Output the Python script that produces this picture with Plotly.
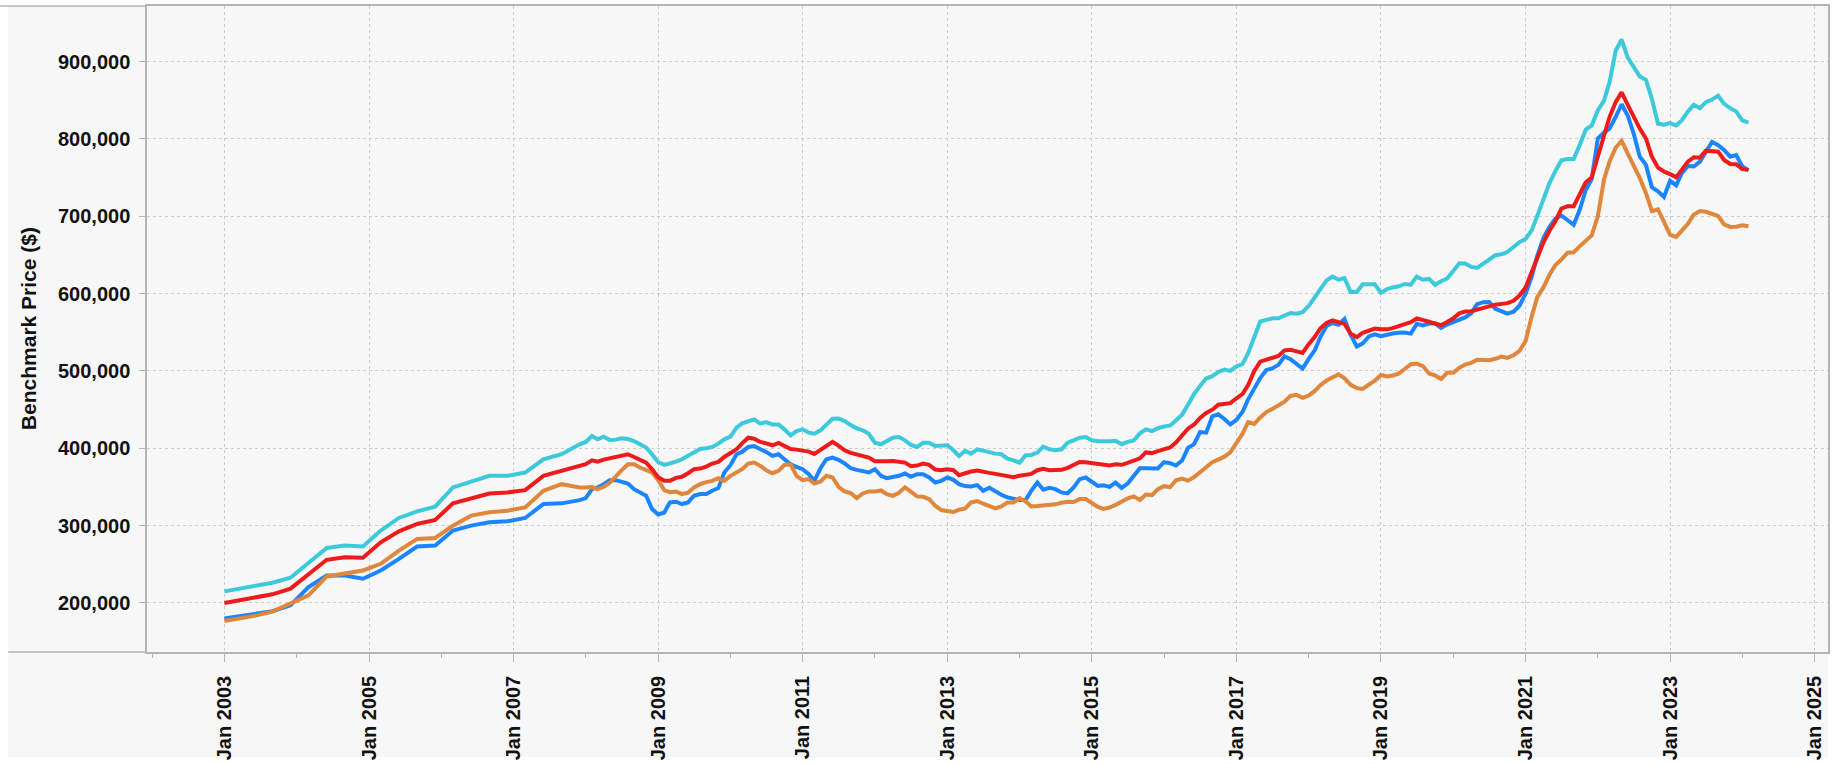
import plotly.graph_objects as go
import pandas as pd

# ---- x categories: quarterly points 2003-2007, then monthly 2008-01 .. 2024-02
quarter_dates = ["2003-01-01"] + [f"{y}-{m:02d}-01" for y in range(2003, 2008) for m in (3, 6, 9, 12)]
monthly_dates = [d.strftime("%Y-%m-%d") for d in pd.date_range("2008-01-01", "2024-02-01", freq="MS")]
dates = quarter_dates + monthly_dates

# ---- series values (thousands of $)
cyan_k = (
    [215.0, 218.0, 221.9, 226.2, 232.6, 252.0, 271.2, 274.2, 273.0, 293.6, 309.9, 318.5, 324.5, 349.4, 357.1, 364.4, 364.4, 368.7, 385.8, 392.3, 405.2]
    + [408.2, 415.9, 411.6, 415.0, 410.7, 411.2, 412.9, 412.0, 409.4, 405.2, 400.9, 392.3]
    + [382.0, 378.5, 380.3, 382.8, 385.8, 390.1, 395.7, 399.1, 400.0, 401.7, 406.0, 411.6]
    + [415.0, 426.6, 432.2, 435.2, 437.3, 431.8, 433.9, 430.9, 430.9, 424.5, 416.7, 422.3]
    + [424.5, 420.2, 418.9, 423.2, 430.0, 438.2, 438.6, 435.2, 430.0, 425.8, 423.2, 418.9]
    + [407.3, 405.2, 409.4, 413.7, 414.6, 410.3, 404.3, 401.7, 407.3, 407.3, 403.0, 403.0]
    + [403.9, 397.4, 390.1, 396.6, 393.1, 398.7, 396.6, 394.4, 393.1, 392.3, 386.7, 384.5]
    + [381.5, 391.0, 391.4, 394.4, 402.1, 398.7, 397.4, 398.7, 407.3, 410.3, 413.7, 414.6]
    + [410.4, 409.1, 408.7, 409.1, 409.6, 405.3, 408.3, 410.0, 419.3, 424.4, 422.3, 426.1]
    + [428.2, 429.5, 435.9, 443.5, 456.3, 470.3, 480.5, 490.2, 493.2, 498.7, 501.7, 500.0]
    + [506.0, 509.0, 523.0, 544.0, 564.0, 566.0, 568.0, 568.0, 571.0, 575.0, 574.0, 576.0]
    + [584.0, 596.0, 607.0, 617.0, 622.0, 618.0, 620.0, 602.0, 602.0, 612.0, 612.0, 612.0]
    + [601.0, 606.0, 608.0, 609.5, 612.5, 611.5, 622.0, 618.0, 619.0, 611.5, 616.0, 619.5]
    + [629.1, 639.3, 638.9, 634.6, 633.4, 638.9, 644.5, 649.6, 650.9, 653.8, 660.2, 666.6]
    + [670.6, 682.0, 700.5, 723.0, 742.5, 758.8, 772.5, 774.0, 774.0, 792.0, 812.0, 817.4]
    + [836.8, 849.6, 873.1, 913.7, 928.6, 905.1, 892.3, 880.8, 876.5, 851.8, 819.8, 818.5]
    + [820.6, 817.6, 824.0, 835.6, 844.1, 839.8, 847.5, 850.9, 856.0, 845.4, 839.8, 835.6]
    + [824.0, 821.0]
)

red_k = (
    [200.0, 202.6, 206.4, 211.2, 218.5, 237.8, 255.8, 259.2, 258.4, 278.5, 292.7, 302.1, 307.3, 328.8, 335.6, 341.6, 342.9, 345.9, 364.4, 370.8, 377.3]
    + [379.4, 384.5, 382.8, 385.4, 387.1, 388.0, 391.0, 392.3, 388.8, 385.8, 381.5, 373.0]
    + [362.5, 357.9, 357.9, 361.8, 363.1, 367.8, 373.0, 373.8, 376.4, 380.3, 382.4, 388.8]
    + [394.4, 398.7, 406.4, 413.7, 412.4, 408.2, 406.4, 403.9, 406.9, 403.4, 399.1, 398.3]
    + [397.4, 395.7, 392.7, 398.3, 403.9, 408.2, 403.4, 397.4, 394.0, 392.3, 390.6, 388.0]
    + [383.3, 382.8, 383.3, 383.7, 382.8, 381.5, 376.8, 377.7, 380.3, 378.5, 372.5, 371.7]
    + [373.0, 371.7, 365.2, 368.2, 369.9, 371.2, 369.1, 368.2, 366.9, 365.7, 364.4, 362.7]
    + [364.4, 366.1, 366.9, 371.7, 373.4, 371.7, 371.7, 372.1, 374.7, 378.5, 382.4, 382.0]
    + [380.7, 379.4, 377.7, 377.7, 379.4, 378.6, 381.1, 383.7, 387.0, 394.7, 393.8, 396.4]
    + [399.4, 401.1, 407.4, 416.8, 425.3, 430.8, 439.3, 445.6, 449.9, 456.3, 457.1, 458.4]
    + [464.7, 470.3, 481.8, 500.0, 512.1, 514.7, 517.9, 519.4, 526.6, 527.4, 525.3, 523.2]
    + [534.7, 544.2, 555.1, 561.9, 565.3, 563.2, 560.9, 548.1, 543.8, 549.2, 552.8, 554.9]
    + [553.8, 553.8, 555.3, 557.6, 560.6, 563.2, 567.9, 566.2, 563.6, 561.3, 559.2, 563.2]
    + [568.0, 574.5, 576.8, 577.2, 579.6, 582.2, 583.5, 585.5, 586.4, 587.7, 590.7, 597.5]
    + [608.0, 628.0, 648.0, 666.0, 681.0, 694.0, 710.0, 713.0, 713.0, 729.0, 744.0, 750.0]
    + [777.1, 804.0, 828.3, 847.5, 860.3, 844.1, 828.3, 813.4, 800.6, 777.1, 763.0, 757.9]
    + [754.5, 750.6, 760.0, 770.7, 776.2, 775.8, 784.8, 784.8, 783.5, 772.8, 767.7, 767.3]
    + [760.9, 760.0]
)

blue_k = (
    [179.8, 182.4, 186.3, 189.3, 197.0, 220.6, 235.6, 235.6, 231.3, 242.0, 257.0, 273.0, 274.2, 293.6, 300.0, 304.3, 305.6, 309.9, 327.9, 328.8, 333.0]
    + [335.6, 347.2, 349.4, 353.6, 358.8, 358.8, 357.1, 354.5, 347.2, 342.9, 338.6, 321.5]
    + [314.5, 317.0, 330.0, 330.9, 327.9, 330.0, 338.6, 340.8, 340.8, 345.1, 348.5, 368.7]
    + [378.1, 392.3, 395.3, 401.7, 403.0, 398.7, 395.3, 390.1, 392.3, 385.8, 379.4, 376.0]
    + [373.0, 366.5, 357.9, 374.2, 385.8, 388.0, 385.0, 380.3, 374.2, 372.1, 370.8, 368.7]
    + [373.0, 364.4, 361.4, 362.7, 364.4, 367.4, 363.1, 366.5, 366.5, 362.2, 355.8, 357.9]
    + [362.2, 359.2, 353.6, 351.1, 350.6, 352.4, 345.1, 348.9, 344.2, 339.9, 336.5, 334.3]
    + [333.0, 333.0, 345.1, 355.8, 346.4, 348.9, 347.2, 342.9, 341.6, 349.4, 360.1, 362.2]
    + [356.5, 351.4, 352.2, 350.1, 355.6, 348.8, 354.4, 365.0, 374.3, 374.3, 374.3, 373.9]
    + [382.0, 380.7, 377.7, 384.1, 400.6, 405.3, 421.0, 420.2, 441.4, 443.9, 437.9, 430.8]
    + [436.7, 447.3, 463.3, 476.4, 490.9, 501.3, 503.2, 507.9, 518.9, 515.3, 508.7, 503.0]
    + [515.6, 527.0, 543.8, 558.0, 562.0, 559.8, 567.2, 547.0, 531.6, 535.7, 544.7, 547.4]
    + [544.9, 547.0, 548.5, 549.3, 549.8, 548.3, 560.9, 559.0, 561.3, 561.5, 555.8, 560.0]
    + [563.0, 567.2, 569.2, 574.6, 586.4, 589.0, 589.2, 580.5, 577.9, 574.1, 576.6, 584.3]
    + [600.0, 622.0, 649.0, 672.0, 686.0, 697.0, 701.0, 695.0, 689.0, 708.0, 734.0, 748.0]
    + [800.6, 808.2, 813.4, 828.3, 844.9, 830.4, 807.0, 777.1, 766.4, 737.4, 732.3, 725.0]
    + [745.9, 740.0, 755.7, 765.1, 764.3, 770.7, 783.5, 796.3, 792.0, 785.6, 777.1, 779.2]
    + [764.3, 759.6]
)

orange_k = (
    [176.8, 179.4, 183.3, 188.8, 200.0, 209.9, 234.3, 237.8, 242.0, 250.6, 267.8, 282.8, 284.1, 300.0, 312.9, 317.2, 319.3, 323.6, 345.1, 353.6, 349.4]
    + [349.4, 349.8, 347.2, 350.2, 355.4, 364.4, 371.7, 379.4, 379.4, 375.1, 371.7, 368.7]
    + [358.8, 345.9, 343.3, 344.2, 340.8, 342.5, 349.4, 353.6, 356.2, 357.9, 361.4, 357.9]
    + [364.4, 368.7, 373.0, 380.3, 381.5, 377.3, 371.7, 367.8, 370.8, 378.5, 379.4, 364.4]
    + [358.8, 360.1, 354.5, 357.1, 364.4, 362.2, 350.2, 344.2, 342.1, 335.6, 341.6, 344.2]
    + [344.2, 345.5, 340.8, 338.6, 342.5, 349.4, 344.2, 337.8, 337.3, 334.3, 325.8, 320.2]
    + [318.9, 317.6, 320.6, 322.3, 330.0, 331.8, 328.3, 325.8, 322.3, 324.9, 330.0, 330.0]
    + [335.6, 331.3, 324.9, 325.3, 325.8, 326.6, 327.5, 329.6, 330.9, 330.5, 334.3, 334.3]
    + [329.0, 324.2, 321.7, 323.4, 326.8, 331.8, 335.2, 337.8, 333.1, 340.3, 339.5, 347.1]
    + [351.0, 349.7, 358.6, 360.7, 358.2, 362.8, 369.2, 374.3, 381.9, 385.4, 389.2, 394.7]
    + [407.5, 419.0, 433.9, 431.4, 439.8, 446.8, 450.9, 455.7, 460.2, 467.7, 469.1, 465.3]
    + [468.2, 474.2, 481.6, 487.6, 492.0, 495.7, 490.5, 482.0, 477.8, 476.7, 482.2, 487.4]
    + [494.8, 492.9, 494.2, 496.5, 502.5, 508.7, 509.5, 506.3, 496.8, 494.2, 489.5, 497.6]
    + [497.6, 504.0, 508.2, 510.5, 514.6, 514.4, 513.8, 515.7, 518.6, 516.9, 520.3, 525.9]
    + [538.7, 570.6, 595.4, 608.0, 624.0, 637.0, 644.0, 653.0, 653.4, 661.1, 668.8, 675.2]
    + [700.0, 747.2, 770.7, 788.6, 797.6, 781.3, 767.7, 749.3, 730.1, 706.7, 708.8, 693.9]
    + [675.9, 673.4, 681.9, 690.4, 702.4, 706.7, 705.8, 703.2, 700.3, 689.6, 686.2, 686.6]
    + [688.3, 687.0]
)

for s in (cyan_k, red_k, blue_k, orange_k):
    assert len(s) == len(dates), (len(s), len(dates))

series = [
    ("Series A", cyan_k, "#3cc9dc"),
    ("Series B", blue_k, "#1a85ff"),
    ("Series C", orange_k, "#e0873b"),
    ("Series D", red_k, "#ee1b1b"),
]

fig = go.Figure()
for name, vals, color in series:
    fig.add_trace(go.Scatter(
        x=dates, y=[v * 1000 for v in vals], mode="lines", name=name,
        line=dict(color=color, width=4), hoverinfo="skip",
    ))

# plot area in pixels: x 147..1830, y 6..658
W, H = 1834, 764
L, R, T, B = 147, 4, 6, 106
pw = W - L - R
ph = H - T - B
axis_col = "#b4b4b4"
grid_col = "#cdcdcd"
tick_font = dict(family="Liberation Sans, Arial, sans-serif", size=20, color="#111111", weight="bold")

fig.update_layout(
    width=W, height=H,
    margin=dict(l=L, r=R, t=T, b=B, pad=0),
    paper_bgcolor="white",
    plot_bgcolor="#f7f7f7",
    showlegend=False,
    xaxis=dict(
        type="date",
        range=["2001-12-06", "2025-03-09"],
        tick0="2003-01-01", dtick="M24", tickformat="%b %Y", tickangle=-90,
        ticks="outside", ticklen=8, tickwidth=1, tickcolor=axis_col,
        ticklabelstandoff=6,
        showline=True, linecolor=axis_col, linewidth=1.5, mirror=True,
        showgrid=True, gridcolor=grid_col, gridwidth=1, griddash="3px,3px",
        zeroline=False, tickfont=tick_font,
        minor=dict(dtick="M12", tick0="2002-01-01", ticks="outside", ticklen=4,
                   tickcolor=axis_col, tickwidth=1, showgrid=False),
    ),
    yaxis=dict(
        range=[136600, 971900],
        tick0=0, dtick=100000, tickformat=",.0f",
        ticks="outside", ticklen=6, tickwidth=1, tickcolor=axis_col,
        ticklabelstandoff=5,
        showline=True, linecolor=axis_col, linewidth=1.5, mirror=True,
        showgrid=True, gridcolor=grid_col, gridwidth=1, griddash="3px,3px",
        zeroline=False, tickfont=tick_font,
    ),
    shapes=[
        dict(type="rect", xref="paper", yref="paper",
             x0=(8 - L) / pw, x1=1.0, y0=-B / ph, y1=1.0,
             fillcolor="#f7f7f7", line=dict(width=0), layer="below"),
        dict(type="line", xref="paper", yref="paper",
             x0=-L / pw, x1=0, y0=1, y1=1, line=dict(color=axis_col, width=1.5)),
        dict(type="line", xref="paper", yref="paper",
             x0=(8 - L) / pw, x1=0, y0=0, y1=0, line=dict(color=axis_col, width=1.5)),
    ],
    annotations=[
        dict(text="Benchmark Price ($)", xref="paper", yref="paper",
             x=(28 - L) / pw, y=0.5, xanchor="center", yanchor="middle",
             textangle=-90, showarrow=False,
             font=dict(family="Liberation Sans, Arial, sans-serif", size=21, color="#111111", weight="bold")),
    ],
)

fig.write_html(
    "out.html",
    config={"displayModeBar": False},
    post_script="document.body.style.margin='0';document.body.style.overflow='hidden';",
)
